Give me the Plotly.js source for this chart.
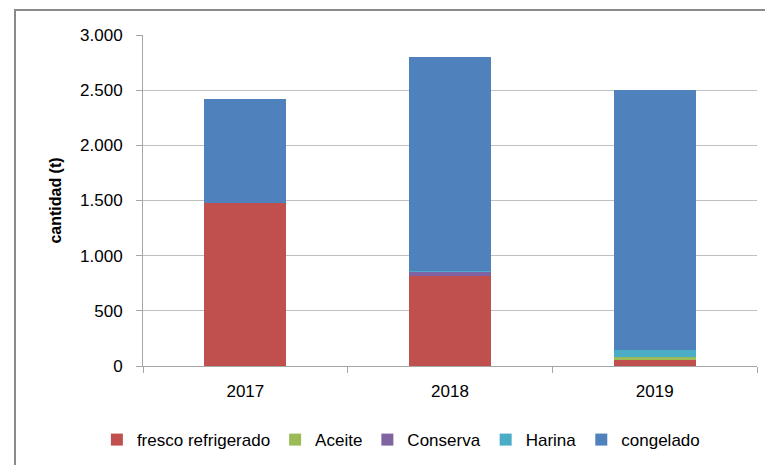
<!DOCTYPE html>
<html>
<head>
<meta charset="utf-8">
<script src="https://cdn.plot.ly/plotly-3.0.1.min.js"></script>
<style>
  html, body { margin: 0; padding: 0; background: #ffffff; }
  #wrap { position: relative; width: 765px; height: 465px; overflow: hidden; }
  #chart { position: absolute; left: 0; top: 0; width: 765px; height: 465px; }
  #frame { position: absolute; left: 14px; top: 9px; width: 760px; height: 470px;
           border-left: 2px solid #8a8a8a; border-top: 2px solid #8a8a8a; pointer-events: none; }
</style>
</head>
<body>
<div id="wrap">
  <div id="chart"></div>
  <div id="frame"></div>
</div>
<script>
const years = ['2017', '2018', '2019'];
const frescoRefrigerado = [1475, 817, 55];
const aceite = [0, 0, 27];
const conserva = [0, 35, 0];
const harina = [0, 5, 60];
const congelado = [948, 1943, 2358];
const yTicks = [0, 500, 1000, 1500, 2000, 2500, 3000];

const seriesNames = ['fresco refrigerado', 'Aceite', 'Conserva', 'Harina', 'congelado'];
const seriesValues = [frescoRefrigerado, aceite, conserva, harina, congelado];
const seriesColors = ['#C0504D', '#9BBB59', '#8064A2', '#4BACC6', '#4F81BD'];

const font = 'Liberation Sans, Arial, sans-serif';

const traces = seriesNames.map((name, i) => ({
  type: 'bar',
  name: name,
  x: years,
  y: seriesValues[i],
  marker: { color: seriesColors[i], line: { width: 0 } },
  hoverinfo: 'x+y+name'
}));

const layout = {
  width: 765,
  height: 465,
  margin: { l: 143, r: 8, t: 35, b: 98 },
  paper_bgcolor: '#ffffff',
  plot_bgcolor: '#ffffff',
  barmode: 'stack',
  bargap: 0.6,
  separators: ',.',
  font: { family: font, size: 17, color: '#000000' },
  showlegend: true,
  legend: {
    orientation: 'h',
    traceorder: 'normal',
    x: 0.42, xanchor: 'center',
    y: -0.22, yanchor: 'middle',
    font: { family: font, size: 17, color: '#000000' },
    itemwidth: 30,
    tracegroupgap: 0
  },
  xaxis: {
    type: 'category',
    showline: true,
    linecolor: '#a6a6a6',
    linewidth: 1,
    ticks: 'outside',
    tickson: 'boundaries',
    ticklen: 6,
    tickcolor: '#a6a6a6',
    showgrid: false,
    tickfont: { family: font, size: 17, color: '#000000' },
    ticklabelstandoff: 10,
    zeroline: false
  },
  yaxis: {
    range: [0, 3000],
    tickvals: yTicks,
    tickformat: ',d',
    showline: true,
    linecolor: '#a6a6a6',
    linewidth: 1,
    ticks: 'outside',
    ticklen: 6,
    tickcolor: '#a6a6a6',
    showgrid: true,
    gridcolor: '#c0c0c0',
    gridwidth: 1,
    zeroline: false,
    tickfont: { family: font, size: 17, color: '#000000' },
    ticklabelstandoff: 10,
    title: { text: '<b>cantidad (t)</b>', font: { family: font, size: 16, color: '#000000' }, standoff: 14 }
  }
};

Plotly.newPlot('chart', traces, layout, { displayModeBar: false, staticPlot: true });
</script>
</body>
</html>
